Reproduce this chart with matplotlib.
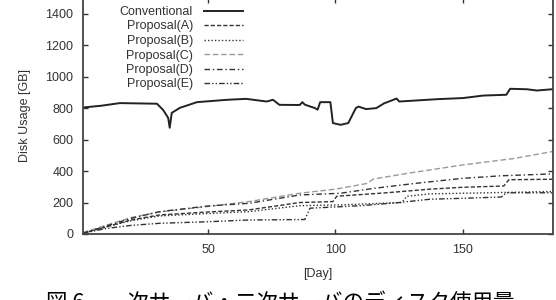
import numpy as np
import matplotlib
matplotlib.use("Agg")
import matplotlib.pyplot as plt

plt.rcParams['font.family'] = ['Liberation Sans', 'DejaVu Sans']

# disk usage per day (knot points)
conv_day = [1, 8, 15.5, 30, 32.4, 34.4, 35, 35.8, 39, 45.7, 57.5, 65, 73, 75.5, 78, 86, 87, 88,
            92, 93, 94, 98, 99, 102, 105, 108, 109, 112, 116, 119, 124, 125, 140, 150, 158,
            167, 168.5, 175, 179, 185]
conv_gb = [804, 815, 832, 828, 789, 738, 675, 770, 802, 838, 853, 859, 842, 853, 821, 820, 838, 822,
           800, 790, 838, 838, 705, 694, 705, 800, 810, 794, 800, 830, 861, 842, 857, 864, 880,
           885, 923, 920, 912, 920]

a_day = [1, 10, 20, 31, 50, 66, 86, 99, 100.5, 120, 137, 150, 166, 168, 185]
a_gb = [5, 45, 90, 121, 140, 153, 200, 206, 240, 262, 285, 297, 305, 345, 348]

b_day = [1, 10, 20, 31, 50, 66, 86, 102, 126, 128, 137, 150, 185]
b_gb = [5, 45, 85, 115, 130, 142, 180, 185, 200, 240, 255, 259, 270]

c_day = [1, 10, 20, 31, 50, 66, 86, 100, 112, 115, 130, 150, 170, 185]
c_gb = [10, 55, 105, 140, 175, 206, 259, 285, 320, 350, 390, 439, 480, 524]

d_day = [1, 10, 20, 31, 50, 66, 86, 102, 115, 132, 150, 165, 185]
d_gb = [5, 50, 100, 142, 178, 195, 248, 259, 290, 323, 354, 370, 382]

e_day = [1, 10, 20, 31, 50, 66, 88, 90, 110, 125, 137, 150, 165, 167, 185]
e_gb = [5, 35, 55, 68, 78, 89, 92, 164, 180, 200, 221, 227, 235, 262, 262]

labels = ['Conventional', 'Proposal(A)', 'Proposal(B)', 'Proposal(C)', 'Proposal(D)', 'Proposal(E)']

fig = plt.figure(figsize=(5.56, 3.0), dpi=100)
ax = fig.add_axes([83 / 556, 66 / 300, 470 / 556, 236 / 300])

ax.plot(conv_day, conv_gb, color='#222222', lw=1.4, label=labels[0])
ax.plot(a_day, a_gb, color='#333333', lw=1.0, ls=(0, (3, 1.5)), label=labels[1])
ax.plot(b_day, b_gb, color='#333333', lw=1.0, ls=(0, (1, 1.5)), label=labels[2])
ax.plot(c_day, c_gb, color='#999999', lw=1.0, ls=(0, (4, 2)), label=labels[3])
ax.plot(d_day, d_gb, color='#333333', lw=1.0, ls=(0, (4, 2, 1, 2)), label=labels[4])
ax.plot(e_day, e_gb, color='#333333', lw=1.0, ls=(0, (4, 1.5, 1, 1.5, 1, 1.5)), label=labels[5])

ax.set_xlim(1, 185.3)
ax.set_ylim(0, 1500)
ax.set_xticks([50, 100, 150])
ax.set_yticks(np.arange(0, 1401, 200))
ax.tick_params(direction='in', length=3.5, width=1.0, top=True, right=True,
               labelsize=9, pad=7, colors='#333333')
for s in ax.spines.values():
    s.set_linewidth(1.3)
    s.set_color('#444444')

ax.set_xlabel('[Day]', fontsize=9, color='#333333', labelpad=9)
ax.set_ylabel('Disk Usage [GB]', fontsize=9, color='#333333', labelpad=10)

fig.legend(loc='upper right', bbox_to_anchor=(243 / 556, 1 - 6 / 300), frameon=False,
           markerfirst=False, fontsize=9, handlelength=3.1, handletextpad=0.9,
           labelspacing=0.2, borderpad=0, borderaxespad=0, labelcolor='#333333')

fig.text(0.504, 1 - 292 / 300, '図 6　一次サーバ・二次サーバのディスク使用量', ha='center', va='top',
         fontsize=15.5, family=['Noto Sans CJK JP', 'DejaVu Sans'])

fig.savefig('out.png', dpi=100)
